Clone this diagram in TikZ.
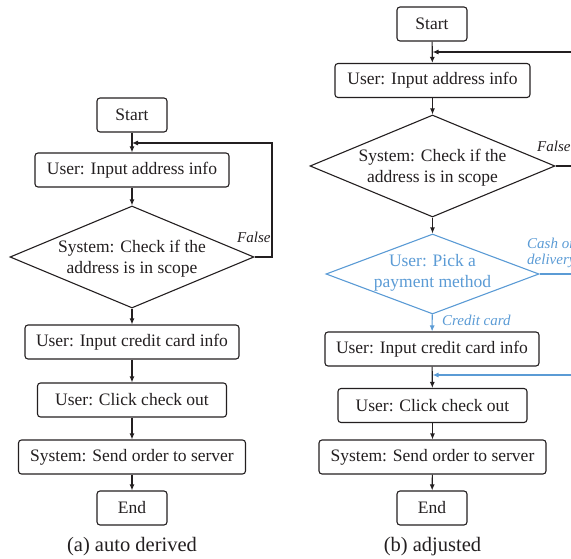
\documentclass[tikz,border=0pt]{standalone}
\usepackage{fontspec}
\setmainfont{Liberation Serif}
\usetikzlibrary{shapes.geometric,arrows.meta}
\definecolor{adjblue}{HTML}{5B9BD5}
\definecolor{ink}{HTML}{231F20}
\begin{document}
\begin{tikzpicture}[x=1pt,y=-1pt,
 box/.style={draw=ink, rounded corners=3pt, line width=1.1pt, minimum height=34pt, inner sep=0pt, font=\fontsize{17.5}{21}\selectfont, text=ink},
 dia/.style={draw=ink, diamond, inner sep=0pt, line width=1.1pt},
 dtext/.style={align=center, font=\fontsize{17.5}{21}\selectfont, inner sep=0pt, text=ink},
 arr/.style={-{Latex[length=6pt,width=5pt]}, line width=1.1pt, draw=ink},
 lab/.style={font=\fontsize{15}{17}\selectfont\itshape, inner sep=0pt, text=ink},
 captxt/.style={font=\fontsize{20.5}{24}\selectfont, text=ink}
]
\useasboundingbox (0,0) rectangle (571,559);
\clip (0,0) rectangle (571,559);
% ---------- (a) auto derived ----------
\node[box, minimum width=70pt] (s1) at (132,115) {Start};
\node[box, minimum width=194pt] (a1) at (132,170) {User: Input address info};
\node[dia, minimum width=244pt, minimum height=102pt] (d1) at (132,257) {};
\node[dtext] (d1t) at (132,258.5) {System: Check if the\\address is in scope};
\node[box, minimum width=214pt] (c1) at (132,342) {User: Input credit card info};
\node[box, minimum width=189pt] (k1) at (132,400) {User: Click check out};
\node[box, minimum width=227pt] (o1) at (132,457) {System: Send order to server};
\node[box, minimum width=70pt] (e1) at (132,508) {End};
\node[captxt] (cap1) at (132,547) {(a) auto derived};
\coordinate (j1) at (132,143);
\coordinate (r1) at (272,143);
\draw[arr] (s1) -- (a1);
\draw[arr] (a1) -- (d1);
\draw[arr] (d1) -- (c1);
\draw[arr] (c1) -- (k1);
\draw[arr] (k1) -- (o1);
\draw[arr] (o1) -- (e1);
\draw[arr] (d1.east) -| (r1) -- (j1);
\node[lab, anchor=base west] (f1) at (237,243) {False};
% ---------- (b) adjusted ----------
\node[box, minimum width=70pt] (s2) at (432,24) {Start};
\node[box, minimum width=195pt] (a2) at (432.5,80.5) {User: Input address info};
\node[dia, minimum width=245pt, minimum height=102pt] (d2) at (432.5,166) {};
\node[dtext] (d2t) at (432.5,167.5) {System: Check if the\\address is in scope};
\node[dia, draw=adjblue, minimum width=213pt, minimum height=80pt] (b2) at (432.5,274) {};
\node[dtext, text=adjblue] (b2t) at (432.5,273) {User: Pick a\\payment method};
\node[box, minimum width=214pt] (c2) at (432,349) {User: Input credit card info};
\node[box, minimum width=189pt] (k2) at (432.5,405.5) {User: Click check out};
\node[box, minimum width=227pt] (o2) at (432.5,457) {System: Send order to server};
\node[box, minimum width=70pt] (e2) at (432,508) {End};
\node[captxt] (cap2) at (432.5,547) {(b) adjusted};
\coordinate (j2) at (432.5,52);
\coordinate (r2) at (590,52);
\coordinate (j3) at (432.5,375);
\coordinate (r3) at (590,375);
\draw[arr] (s2) -- (a2);
\draw[arr] (a2) -- (d2);
\draw[arr] (d2) -- (b2);
\draw[arr, draw=adjblue] (b2) -- (c2);
\draw[arr] (c2) -- (k2);
\draw[arr] (k2) -- (o2);
\draw[arr] (o2) -- (e2);
\draw[arr] (d2.east) -| (r2) -- (j2);
\draw[arr, draw=adjblue] (b2.east) -| (r3) -- (j3);
\node[lab, anchor=base west] (f2) at (537,152) {False};
\node[lab, text=adjblue, anchor=base west, align=left] (cod) at (527,265) {Cash on\\delivery};
\node[lab, text=adjblue, anchor=base west] (cc) at (442,325) {Credit card};
\end{tikzpicture}
\end{document}
